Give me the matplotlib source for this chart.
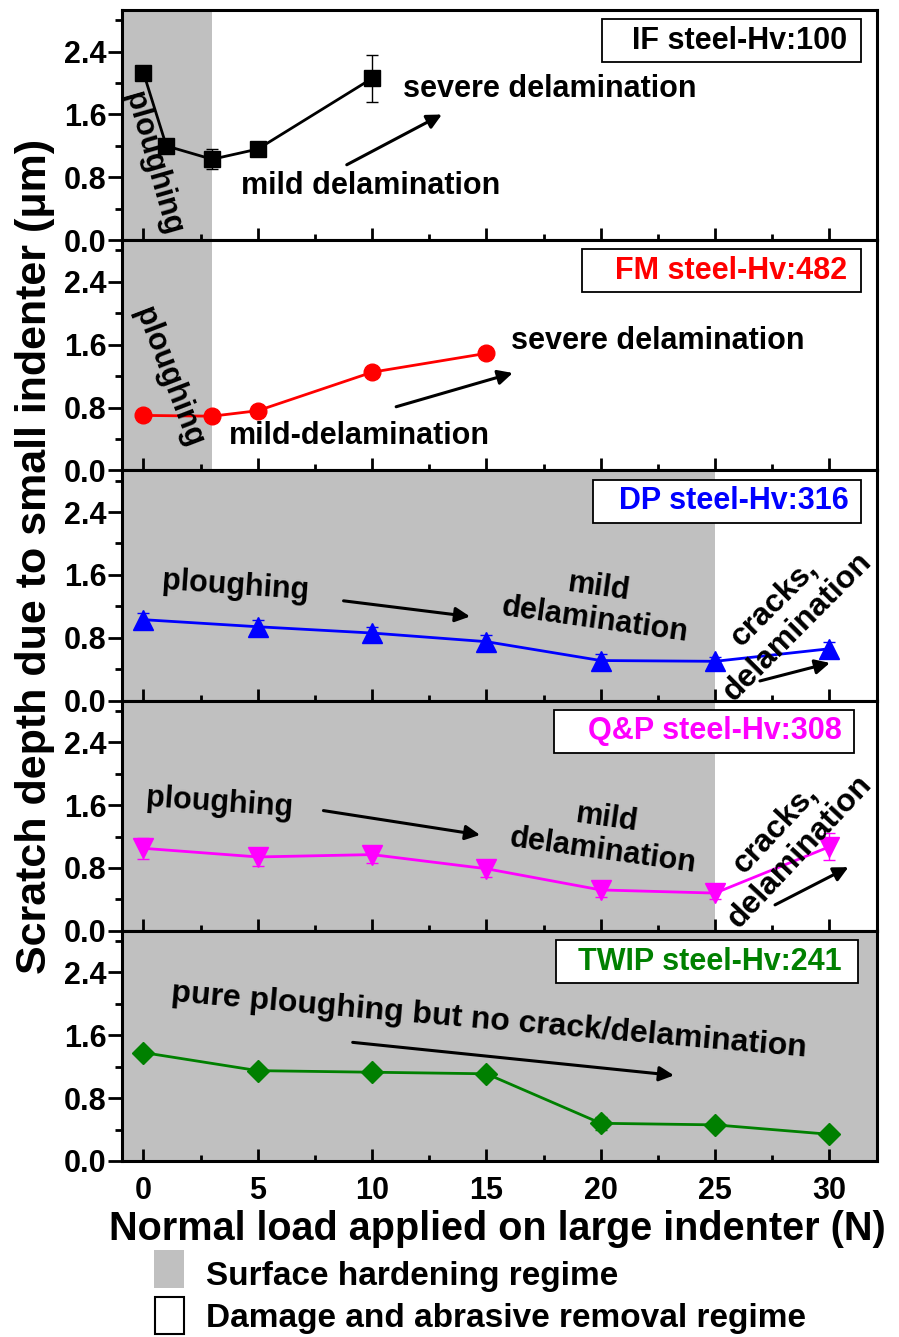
import matplotlib
matplotlib.use('Agg')
import matplotlib.pyplot as plt
from matplotlib.patches import Rectangle
from matplotlib.ticker import FixedLocator, MultipleLocator

plt.rcParams['font.family'] = ['Liberation Sans', 'DejaVu Sans']
plt.rcParams['font.weight'] = 'bold'

# normal load (N) and scratch depth (um) for each steel
if_load = [0, 1, 3, 5, 10]
if_depth = [2.13, 1.20, 1.03, 1.16, 2.06]
if_err = [0.04, 0.04, 0.13, 0.04, 0.30]

fm_load = [0, 3, 5, 10, 15]
fm_depth = [0.70, 0.69, 0.76, 1.25, 1.49]
fm_err = [0.03, 0.03, 0.03, 0.03, 0.03]

load = [0, 5, 10, 15, 20, 25, 30]
dp_depth = [1.03, 0.94, 0.86, 0.75, 0.51, 0.50, 0.66]
dp_err = [0.08, 0.08, 0.08, 0.08, 0.08, 0.06, 0.09]
qp_depth = [1.05, 0.94, 0.97, 0.79, 0.52, 0.48, 1.07]
qp_err = [0.13, 0.11, 0.11, 0.11, 0.09, 0.07, 0.17]
twip_depth = [1.38, 1.15, 1.13, 1.11, 0.48, 0.46, 0.34]
twip_err = [0.04, 0.04, 0.04, 0.04, 0.08, 0.04, 0.04]

steel_names = ['IF steel-Hv:100', 'FM steel-Hv:482', 'DP steel-Hv:316',
               'Q&P steel-Hv:308', 'TWIP steel-Hv:241']
steel_colors = ['black', 'red', 'blue', 'magenta', 'green']
steel_markers = ['s', 'o', '^', 'v', 'D']
marker_sizes = [11, 12, 15, 15, 11]
# load up to which the surface hardening regime lasts
hardening_limit = [3, 3, 25, 25, 35]

series = [(if_load, if_depth, if_err), (fm_load, fm_depth, fm_err),
          (load, dp_depth, dp_err), (load, qp_depth, qp_err),
          (load, twip_depth, twip_err)]

W, H = 899, 1337
fig = plt.figure(figsize=(W / 100, H / 100), dpi=100)

ax_left, ax_right = 122, 877
top0, panel_h = 10, 230.2
x_min, x_max = -0.94, 32.08
y_max = 2.93

# name box spans (axes fraction): left, right, text right edge
box_x = [(0.636, 0.979, 0.960), (0.609, 0.979, 0.960), (0.624, 0.979, 0.962),
         (0.572, 0.970, 0.954), (0.575, 0.975, 0.953)]

axes = []
for i in range(5):
    bottom = 1 - (top0 + panel_h * (i + 1)) / H
    ax = fig.add_axes([ax_left / W, bottom, (ax_right - ax_left) / W, panel_h / H])
    axes.append(ax)
    x, y, e = series[i]
    ax.axvspan(x_min - 1, hardening_limit[i], color='#c0c0c0', lw=0, zorder=0)
    ax.errorbar(x, y, yerr=e, color=steel_colors[i], marker=steel_markers[i],
                ms=marker_sizes[i], lw=2, elinewidth=1, capsize=4.5, capthick=1,
                zorder=3)
    ax.set_xlim(x_min, x_max)
    ax.set_ylim(0, y_max)
    ax.xaxis.set_major_locator(MultipleLocator(5))
    ax.xaxis.set_minor_locator(MultipleLocator(2.5))
    ax.yaxis.set_major_locator(FixedLocator([0, 0.8, 1.6, 2.4]))
    ax.yaxis.set_minor_locator(MultipleLocator(0.4))
    ax.yaxis.set_major_formatter('{x:.1f}')
    ax.tick_params(axis='y', which='major', direction='out', length=10, width=2,
                   labelsize=22, pad=1)
    ax.tick_params(axis='y', which='minor', direction='out', length=5, width=2)
    ax.tick_params(axis='x', which='major', direction='in', length=9, width=2,
                   labelsize=22, pad=11, labelbottom=(i == 4))
    ax.tick_params(axis='x', which='minor', direction='in', length=4, width=2)
    for s in ax.spines.values():
        s.set_linewidth(2.2)

    bl, br, tr = box_x[i]
    ax.add_patch(Rectangle((bl, 0.773), br - bl, 0.187, transform=ax.transAxes,
                           facecolor='white', edgecolor='black', lw=1.3, zorder=4))
    ax.text(tr, 0.866, steel_names[i], transform=ax.transAxes, ha='right',
            va='center', fontsize=22, color=steel_colors[i], zorder=5)

arrow_kw = dict(arrowstyle='-|>', lw=2.2, color='black', mutation_scale=22,
                shrinkA=0, shrinkB=0)


def arrow(ax, start, end):
    ax.annotate('', xy=end, xytext=start, arrowprops=arrow_kw, zorder=6)


def label(ax, x, y, s, rot=0, ha='center', size=22):
    ax.text(x, y, s, rotation=rot, rotation_mode='anchor', ha=ha, va='center',
            fontsize=size, multialignment='center', linespacing=1.15, zorder=6)


# IF steel
ax = axes[0]
label(ax, 0.42, 0.98, 'ploughing', rot=-74)
label(ax, 11.36, 1.93, 'severe delamination', ha='left')
label(ax, 4.27, 0.69, 'mild delamination', ha='left')
arrow(ax, (8.89, 0.96), (13.05, 1.60))

# FM steel
ax = axes[1]
label(ax, 1.08, 1.18, 'ploughing', rot=-69)
label(ax, 16.08, 1.65, 'severe delamination', ha='left')
label(ax, 3.72, 0.44, 'mild-delamination', ha='left')
arrow(ax, (11.05, 0.81), (16.15, 1.24))

# DP steel
ax = axes[2]
label(ax, 4.01, 1.46, 'ploughing', rot=-4)
arrow(ax, (8.75, 1.27), (14.28, 1.07))
label(ax, 19.84, 1.23, 'mild\ndelamination', rot=-8)
label(ax, 28.1, 1.09, 'cracks,\ndelamination', rot=45, size=23)
arrow(ax, (26.96, 0.25), (30.02, 0.48))

# Q&P steel
ax = axes[3]
label(ax, 3.31, 1.62, 'ploughing', rot=-4)
arrow(ax, (7.87, 1.53), (14.72, 1.22))
label(ax, 20.19, 1.22, 'mild\ndelamination', rot=-8)
label(ax, 28.2, 1.15, 'cracks,\ndelamination', rot=47, size=23)
arrow(ax, (27.62, 0.33), (30.83, 0.81))

# TWIP steel
ax = axes[4]
label(ax, 15.1, 1.79, 'pure ploughing but no crack/delamination', rot=-5, size=23)
arrow(ax, (9.15, 1.51), (23.2, 1.09))

fig.text(35 / W, 1 - 556 / H, 'Scratch depth due to small indenter (μm)',
         rotation=90, ha='center', va='center', fontsize=31)
fig.text(497 / W, 1 - 1229 / H, 'Normal load applied on large indenter (N)',
         ha='center', va='center', fontsize=28.5)

# regime key
fig.add_artist(Rectangle((154 / W, 1 - 1288 / H), 30 / W, 38 / H,
                         transform=fig.transFigure, facecolor='#c0c0c0',
                         edgecolor='none'))
fig.add_artist(Rectangle((155 / W, 1 - 1334 / H), 29 / W, 37 / H,
                         transform=fig.transFigure, facecolor='white',
                         edgecolor='black', lw=1.5))
fig.text(206 / W, 1 - 1276 / H, 'Surface hardening regime', va='center', fontsize=24)
fig.text(206 / W, 1 - 1318 / H, 'Damage and abrasive removal regime', va='center',
         fontsize=24)

fig.savefig('out.png', dpi=100)
